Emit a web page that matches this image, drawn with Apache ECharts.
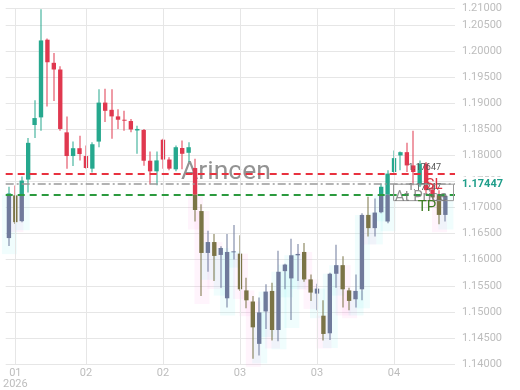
<!DOCTYPE html>
<html><head><meta charset="utf-8">
<script src="https://cdn.jsdelivr.net/npm/echarts@6/dist/echarts.min.js"></script>
<style>html,body{margin:0;padding:0;background:#fff}#c{width:520px;height:390px}</style>
</head><body><div id="c"></div>
<script>
// ---- data ----
const opens  = [1.16414,1.17232,1.16738,1.17536,1.18582,1.18728,1.20217,1.19774,1.19646,1.18441,
                1.17987,1.18137,1.17987,1.17745,1.18264,1.19011,1.18873,1.18747,1.18683,1.18658,
                1.18477,1.18487,1.17897,1.17694,1.18300,1.17920,1.17732,1.18141,1.18049,1.17757,
                1.16932,1.16129,1.16338,1.16091,1.15260,1.16148,1.16116,1.15411,1.15198,1.14386,
                1.15008,1.15401,1.14652,1.15780,1.15641,1.16084,1.16148,1.15622,1.15350,1.14926,
                1.14589,1.15730,1.15895,1.15411,1.15241,1.15432,1.16858,1.16605,1.16909,1.16732,
                1.17681,1.17998,1.18061,1.17807,1.17427,1.17840,1.17346,1.17238,1.16858];
const closes = [1.17270,1.16719,1.17517,1.18240,1.18715,1.20203,1.19785,1.19646,1.18506,1.17987,
                1.18137,1.18025,1.17757,1.18213,1.19011,1.18854,1.18747,1.18683,1.18665,1.18496,
                1.18506,1.17897,1.17694,1.17903,1.17920,1.17745,1.18156,1.18030,1.18156,1.16952,
                1.16129,1.16338,1.16072,1.16224,1.16148,1.16160,1.15432,1.15221,1.14703,1.14989,
                1.15388,1.14652,1.15768,1.15906,1.16084,1.16110,1.15621,1.15369,1.15445,1.14576,
                1.15730,1.15895,1.15432,1.15209,1.15401,1.16858,1.16605,1.16903,1.17398,1.17650,
                1.17947,1.18061,1.17807,1.17681,1.17840,1.17333,1.17194,1.16858,1.17224];
const lows   = [1.16260,1.16683,1.16719,1.17289,1.18335,1.18473,1.18937,1.19044,1.18473,1.17745,
                1.17797,1.17903,1.17745,1.17669,1.18156,1.18639,1.18316,1.18506,1.18473,1.18441,
                1.18030,1.17802,1.17441,1.17427,1.17745,1.17713,1.17694,1.17732,1.17872,1.16732,
                1.15306,1.15768,1.15591,1.15464,1.15084,1.16002,1.15401,1.15070,1.14101,1.14165,
                1.14671,1.14451,1.14437,1.15432,1.14842,1.15591,1.15578,1.15209,1.15032,1.14451,
                1.14462,1.15464,1.15084,1.15032,1.15084,1.15222,1.16446,1.16446,1.16890,1.16700,
                1.17650,1.17713,1.17681,1.17427,1.17395,1.17270,1.17150,1.16681,1.16732];
const highs  = [1.17400,1.17422,1.17593,1.18335,1.19057,1.20800,1.20241,1.19964,1.19709,1.18747,
                1.18264,1.18378,1.18188,1.18253,1.19266,1.19279,1.19266,1.18886,1.18854,1.18696,
                1.18569,1.18506,1.18074,1.18074,1.18316,1.17965,1.18188,1.18283,1.18253,1.17935,
                1.17061,1.16553,1.16490,1.16257,1.16490,1.16667,1.16466,1.15654,1.15306,1.15274,
                1.15527,1.15559,1.16173,1.15920,1.16401,1.16300,1.16319,1.15717,1.15540,1.15222,
                1.15749,1.16287,1.16067,1.15464,1.15717,1.16890,1.17207,1.17175,1.17460,1.17713,
                1.18093,1.18074,1.18240,1.18473,1.17903,1.17872,1.17400,1.17333,1.17270];
const labelIdx = [1, 12, 24, 36, 48, 60];
const labelTxt = ['01\n2026', '02', '02', '03', '03', '04'];
const slPrice = 1.17647, curPrice = 1.17447, tpPrice = 1.17247;
const yMin = 1.14, yMax = 1.20825, yStep = 0.005;
const nSlots = 70;

// ---- build ----
const UP = '#26a88e', DOWN = '#e0384f', UP2 = '#6f7a9b', DOWN2 = '#7b7446';
const categories = Array.from({length: nSlots}, (_, i) => String(i));
const data = opens.map((o, i) => [i, o, closes[i], lows[i], highs[i]]);

function geom(api) {
  const i = api.value(0), o = api.value(1), c = api.value(2), l = api.value(3), h = api.value(4);
  const p = api.coord([i, o]);
  return {
    cx: p[0], bw: api.size([1, 0])[0] * 0.68,
    yo: p[1], yc: api.coord([i, c])[1], yl: api.coord([i, l])[1], yh: api.coord([i, h])[1],
    yt: api.coord([i, tpPrice])[1], up: c >= o
  };
}
function candleItem(params, api) {
  const g = geom(api);
  const topCol = g.up ? UP : DOWN, botCol = g.up ? UP2 : DOWN2;
  const bTop = Math.min(g.yo, g.yc), bBot = Math.max(Math.max(g.yo, g.yc), bTop + 1);
  const ch = [];
  function seg(y1, y2, fn) {
    if (y1 < g.yt) fn(y1, Math.min(y2, g.yt), topCol);
    if (y2 > g.yt) fn(Math.max(y1, g.yt), y2, botCol);
  }
  const wx = Math.round(g.cx) - 0.5;
  seg(g.yh, g.yl, (a, b, col) => ch.push({type: 'rect', shape: {x: wx, y: a, width: 1, height: b - a}, style: {fill: col}}));
  seg(bTop, bBot, (a, b, col) => ch.push({type: 'rect', shape: {x: g.cx - g.bw / 2, y: a, width: g.bw, height: b - a}, style: {fill: col}}));
  return {type: 'group', children: ch};
}
function glowItem(params, api) {
  const g = geom(api);
  if (g.yl <= g.yt) return {type: 'group', children: []};
  const top = Math.max(Math.min(g.yo, g.yc), g.yt);
  return {type: 'rect', shape: {x: g.cx - 7, y: top, width: 15, height: g.yl + 8 - top},
          style: {fill: g.up ? 'rgba(70,235,225,0.08)' : 'rgba(250,120,215,0.08)'}};
}

const chart = echarts.init(document.getElementById('c'), null, {renderer: 'canvas'});
const FONT = 'Roboto, sans-serif';
const smallLbl = {show: true, position: 'insideEndTop', formatter: (p) => p.value.toFixed(5), fontSize: 9, color: '#555', distance: [14, 2], fontFamily: FONT};
chart.setOption({
  animation: false,
  grid: {left: 0, right: 65, top: 8, bottom: 23},
  xAxis: {
    type: 'category', data: categories, boundaryGap: true,
    axisLine: {show: false}, axisTick: {show: false}, splitLine: {show: false},
    axisLabel: {
      interval: (idx) => labelIdx.includes(idx),
      formatter: (v, idx) => { const k = labelIdx.indexOf(idx); return k >= 0 ? labelTxt[k] : ''; },
      color: '#bdbdbd', fontSize: 11, lineHeight: 11, margin: 4, fontFamily: FONT
    }
  },
  yAxis: {
    type: 'value', position: 'right', min: yMin, max: yMax, interval: yStep,
    axisLine: {show: false}, axisTick: {show: false},
    splitLine: {lineStyle: {color: '#e6e6e6', width: 1}},
    axisLabel: {color: '#bdbdbd', fontSize: 11, margin: 7, fontFamily: FONT,
      formatter: (v) => (Math.round(v / yStep) * yStep).toFixed(5)}
  },
  series: [
    {
      type: 'line', data: [], z: 1, silent: true,
      markLine: {symbol: ['none', 'none'], silent: true, label: {show: false},
        lineStyle: {color: '#e6e6e6', width: 1, type: 'solid'},
        data: labelIdx.map(i => ({xAxis: String(i)}))}
    },
    {type: 'custom', data: data, z: 1, renderItem: glowItem, encode: {x: 0, y: [1, 2, 3, 4]}, silent: true},
    {
      type: 'custom', data: data, z: 2, renderItem: candleItem, encode: {x: 0, y: [1, 2, 3, 4]}, silent: true,
      markLine: {
        symbol: ['none', 'none'], silent: true, precision: 5,
        data: [
          {yAxis: slPrice, lineStyle: {color: '#e8323f', width: 2, type: [7, 5]}, label: smallLbl},
          {yAxis: tpPrice, lineStyle: {color: '#2b9a3e', width: 2, type: [7, 5]}, label: smallLbl},
          {yAxis: curPrice, lineStyle: {color: '#9a9a9a', width: 1.5, type: [8, 3, 2, 3]},
           label: {show: true, position: 'end', formatter: (p) => p.value.toFixed(5), fontSize: 11, fontWeight: 'bold',
             color: '#1f9e8a', backgroundColor: '#fff', padding: [2, 2, 2, 0], distance: 7, fontFamily: FONT}},
          {yAxis: curPrice, lineStyle: {opacity: 0}, label: smallLbl}
        ]
      }
    }
  ]
});

const yS = chart.convertToPixel({yAxisIndex: 0}, slPrice);
const yC = chart.convertToPixel({yAxisIndex: 0}, curPrice);
const yT = chart.convertToPixel({yAxisIndex: 0}, tpPrice);
chart.setOption({
  graphic: [
    {type: 'text', z: 0, left: 181, top: 159, style: {text: 'Arincen', fontSize: 26.5, fontFamily: FONT, fill: 'rgba(120,120,120,0.8)'}},
    {type: 'rect', z: 10, shape: {x: 393.5, y: yC, width: 60, height: yT - yC + 6}, style: {fill: 'none', stroke: '#9a9a9a', lineWidth: 1}},
    {type: 'text', z: 10, x: 434, y: yS + 11, style: {text: 'SL', fontSize: 15, fontFamily: FONT, fill: '#e0303f', align: 'center', verticalAlign: 'middle'}},
    {type: 'text', z: 10, x: 421, y: yC + 13, style: {text: 'At Price', fontSize: 15, fontFamily: FONT, fill: 'rgba(110,110,110,0.75)', align: 'center', verticalAlign: 'middle'}},
    {type: 'text', z: 10, x: 427, y: yT + 13, style: {text: 'TP', fontSize: 15, fontFamily: FONT, fill: '#3f7d23', align: 'center', verticalAlign: 'middle'}}
  ]
});
</script></body></html>
